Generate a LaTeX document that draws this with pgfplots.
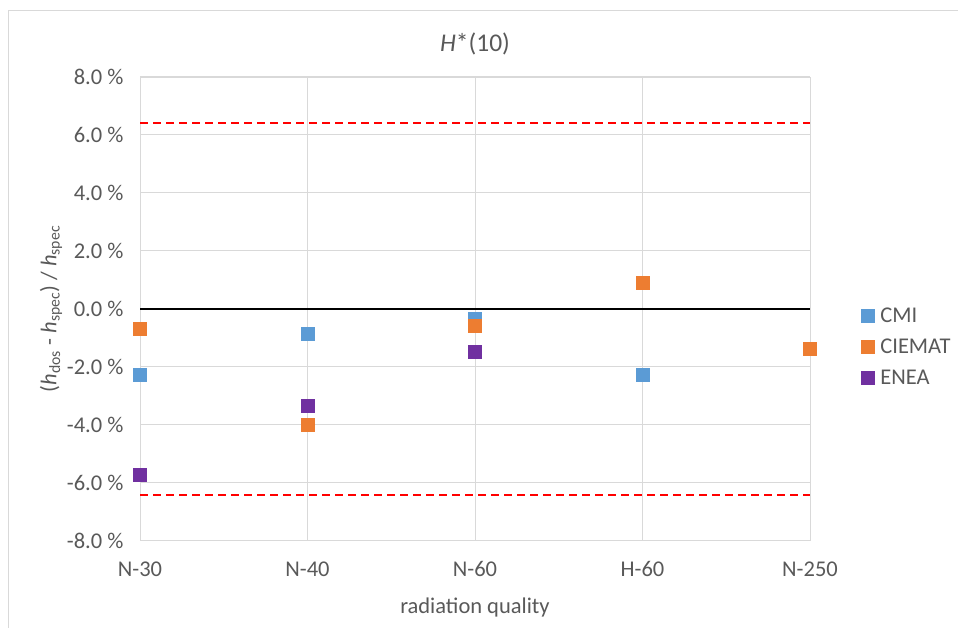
\documentclass[border=0pt]{standalone}
\usepackage{pgfplots}
\pgfplotsset{compat=1.18}
\usepackage{fontspec}
\setmainfont{Carlito}
\definecolor{txt}{RGB}{89,89,89}
\definecolor{gridc}{RGB}{217,217,217}
\definecolor{cmi}{RGB}{91,155,213}
\definecolor{ciemat}{RGB}{237,125,49}
\definecolor{enea}{RGB}{112,48,160}
\begin{document}
\begin{tikzpicture}[x=1pt,y=1pt]
\useasboundingbox (0,0) rectangle (958,628);
\draw[gridc, line width=1pt] (8.5,0) -- (8.5,617.5) -- (958,617.5);
\begin{axis}[
  at={(140pt,87pt)}, anchor=south west,
  scale only axis, width=670pt, height=464pt,
  xmin=0, xmax=4, ymin=-8, ymax=8,
  clip=false,
  axis line style={draw=none},
  tick style={draw=none},
  xtick={0,1,2,3,4},
  xticklabels={N-30,N-40,N-60,H-60,N-250},
  ytick={-8,-6,...,8},
  yticklabels={-8.0 \%,-6.0 \%,-4.0 \%,-2.0 \%,0.0 \%,2.0 \%,4.0 \%,6.0 \%,8.0 \%},
  grid=major,
  major grid style={gridc, line width=1pt},
  ticklabel style={font=\fontsize{22.5}{25}\selectfont, text=txt},
  xticklabel style={yshift=-17pt},
  yticklabel style={xshift=-13pt},
  xlabel={radiation quality},
  xlabel style={font=\fontsize{22.5}{25}\selectfont, text=txt, yshift=-14pt},
  ylabel={(\textit{h}\textsubscript{dos} - \textit{h}\textsubscript{spec}) / \textit{h}\textsubscript{spec}},
  ylabel style={font=\fontsize{22.5}{25}\selectfont, text=txt, yshift=-2pt},
  title={\textit{H}*(10)},
  title style={font=\fontsize{25.5}{28}\selectfont, text=txt, yshift=12pt},
  legend style={at={(1.072,0.419)}, anchor=west, draw=none, fill=none,
    font=\fontsize{22.5}{25}\selectfont, text=txt, row sep=11pt,
    cells={anchor=west}},
  legend image code/.code={\draw[#1] plot coordinates {(0pt,0pt)}; \path (-6.5pt,0pt) (10pt,0pt);},
]
\addplot[black, line width=1.3pt, forget plot] coordinates {(0,0) (4,0)};
\addplot[red, line width=2pt, dash pattern=on 8pt off 5pt, forget plot] coordinates {(0,6.4) (4,6.4)};
\addplot[red, line width=2pt, dash pattern=on 8pt off 5pt, forget plot] coordinates {(0,-6.4) (4,-6.4)};
\addplot[only marks, mark=square*, mark size=6.5pt, draw=cmi, fill=cmi] coordinates {(0,-2.28) (1,-0.86) (2,-0.33) (3,-2.28)};
\addlegendentry{CMI}
\addplot[only marks, mark=square*, mark size=6.5pt, draw=ciemat, fill=ciemat] coordinates {(0,-0.69) (1,-4.0) (2,-0.57) (3,0.9) (4,-1.38)};
\addlegendentry{CIEMAT}
\addplot[only marks, mark=square*, mark size=6.5pt, draw=enea, fill=enea] coordinates {(0,-5.72) (1,-3.34) (2,-1.48)};
\addlegendentry{ENEA}
\end{axis}
\end{tikzpicture}
\end{document}
